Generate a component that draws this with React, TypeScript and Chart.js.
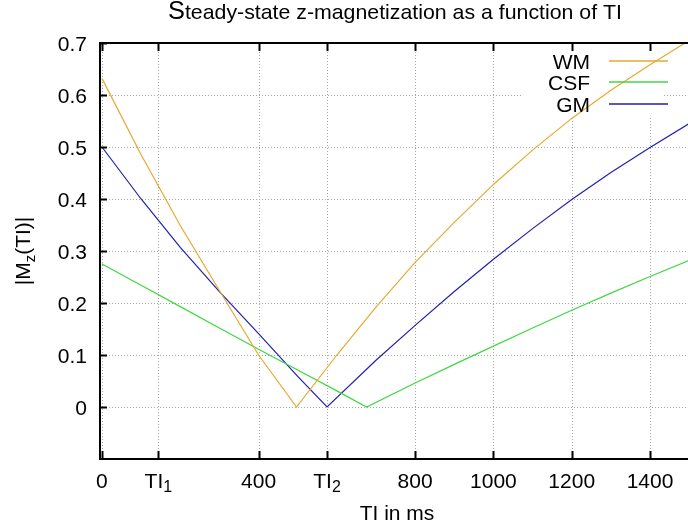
import React, { useEffect, useRef } from "react";
import { Chart, registerables } from "chart.js";

Chart.register(...registerables);

// ---------- text ----------
const TITLE_FIRST = "S";
const TITLE_REST = "teady-state z-magnetization as a function of TI";
const X_TITLE = "TI in ms";
const Y_TITLE_PARTS = ["|M", "z", "(TI)|"]; // middle part is a subscript

// ---------- axes ----------
const X_MIN = -5;
const X_MAX = 1497;
const Y_MIN = -0.1;
const Y_MAX = 0.7;
const TI1 = 144;
const TI2 = 575;
const xTickValues = [0, TI1, 400, TI2, 800, 1000, 1200, 1400];
const xTickLabels = ["0", "TI_1", "400", "TI_2", "800", "1000", "1200", "1400"];
const yTickValues = [0, 0.1, 0.2, 0.3, 0.4, 0.5, 0.6, 0.7];
const yTickLabels = ["0", "0.1", "0.2", "0.3", "0.4", "0.5", "0.6", "0.7"];

// ---------- series ----------
const seriesNames = ["WM", "CSF", "GM"];
const seriesColors = ["#e8a830", "#40d840", "#2020b0"];

const wmTI = [0, 100, 200, 300, 400, 497, 600, 700, 800, 900, 1000, 1100, 1200, 1300, 1400, 1500];
const wmMz = [0.632, 0.485, 0.349, 0.224, 0.1, 0, 0.1, 0.192, 0.278, 0.355, 0.428, 0.494, 0.555, 0.609, 0.658, 0.705];

const csfTI = [0, 100, 200, 300, 400, 500, 600, 676, 800, 900, 1000, 1100, 1200, 1300, 1400, 1500];
const csfMz = [0.275, 0.234, 0.193, 0.152, 0.111, 0.071, 0.031, 0, 0.046, 0.082, 0.117, 0.152, 0.186, 0.219, 0.251, 0.282];

const gmTI = [0, 100, 200, 300, 400, 500, 575, 700, 800, 900, 1000, 1100, 1200, 1300, 1400, 1500];
const gmMz = [0.5, 0.4, 0.307, 0.222, 0.141, 0.059, 0, 0.09, 0.157, 0.222, 0.284, 0.343, 0.399, 0.451, 0.499, 0.545];

const FONT = "'Liberation Sans', Arial, sans-serif";

function toPoints(xs: number[], ys: number[]) {
  return xs.map((x, i) => ({ x, y: ys[i] }));
}

const gnuplotPlugin = {
  id: "gnuplotFrame",
  beforeDatasetsDraw(chart: any) {
    const { ctx, chartArea: ca } = chart;
    const xs = chart.scales.x;
    const ys = chart.scales.y;
    ctx.save();
    // dotted grid
    ctx.strokeStyle = "#a8a8a8";
    ctx.lineWidth = 1;
    ctx.setLineDash([1, 2]);
    xTickValues.forEach((v) => {
      const px = Math.round(xs.getPixelForValue(v)) + 0.5;
      ctx.beginPath();
      ctx.moveTo(px, ca.top);
      ctx.lineTo(px, ca.bottom);
      ctx.stroke();
    });
    yTickValues.forEach((v) => {
      const py = Math.round(ys.getPixelForValue(v)) + 0.5;
      ctx.beginPath();
      ctx.moveTo(ca.left, py);
      ctx.lineTo(ca.right, py);
      ctx.stroke();
    });
    ctx.setLineDash([]);
    // opaque legend box (hides grid)
    ctx.fillStyle = "#ffffff";
    ctx.fillRect(ca.right - 165, ca.top + 1, 139, 73);
    ctx.restore();
  },
  afterDatasetsDraw(chart: any) {
    const { ctx, chartArea: ca } = chart;
    const xs = chart.scales.x;
    const ys = chart.scales.y;
    ctx.save();
    // border
    ctx.strokeStyle = "#000";
    ctx.lineWidth = 2;
    ctx.beginPath();
    ctx.moveTo(ca.right + 2, ca.top);
    ctx.lineTo(ca.left, ca.top);
    ctx.lineTo(ca.left, ca.bottom);
    ctx.lineTo(ca.right + 2, ca.bottom);
    ctx.stroke();
    // inward ticks
    ctx.lineWidth = 2;
    xTickValues.forEach((v) => {
      const px = Math.round(xs.getPixelForValue(v)) + 0.5;
      ctx.beginPath();
      ctx.moveTo(px, ca.bottom);
      ctx.lineTo(px, ca.bottom - 8);
      ctx.moveTo(px, ca.top);
      ctx.lineTo(px, ca.top + 8);
      ctx.stroke();
    });
    yTickValues.forEach((v) => {
      const py = Math.round(ys.getPixelForValue(v)) + 0.5;
      ctx.beginPath();
      ctx.moveTo(ca.left, py);
      ctx.lineTo(ca.left + 7, py);
      ctx.stroke();
    });

    ctx.fillStyle = "#000";
    ctx.textBaseline = "alphabetic";
    // x tick labels
    xTickValues.forEach((v, i) => {
      const px = xs.getPixelForValue(v);
      const [main, sub] = xTickLabels[i].split("_");
      ctx.font = `21px ${FONT}`;
      const wMain = ctx.measureText(main).width;
      let wSub = 0;
      if (sub) {
        ctx.font = `16px ${FONT}`;
        wSub = ctx.measureText(sub).width;
      }
      const x0 = px - (wMain + wSub) / 2;
      ctx.textAlign = "left";
      ctx.font = `21px ${FONT}`;
      ctx.fillText(main, x0, ca.bottom + 29);
      if (sub) {
        ctx.font = `16px ${FONT}`;
        ctx.fillText(sub, x0 + wMain, ca.bottom + 33);
      }
    });
    // y tick labels
    ctx.font = `21px ${FONT}`;
    ctx.textAlign = "right";
    yTickValues.forEach((v, i) => {
      const py = ys.getPixelForValue(v);
      ctx.fillText(yTickLabels[i], ca.left - 13, py + 7.5);
    });

    // x title
    ctx.textAlign = "center";
    ctx.font = `21px ${FONT}`;
    ctx.fillText(X_TITLE, (ca.left + ca.right) / 2 + 3, ca.bottom + 61);

    // y title (rotated, with subscript)
    ctx.save();
    ctx.translate(22, (ca.top + ca.bottom) / 2);
    ctx.rotate(-Math.PI / 2);
    ctx.textAlign = "left";
    const sizes = [21, 15, 21];
    const offs = [0, 5, 0];
    let total = 0;
    const widths = Y_TITLE_PARTS.map((p, i) => {
      ctx.font = `${sizes[i]}px ${FONT}`;
      const w = ctx.measureText(p).width;
      total += w;
      return w;
    });
    let cx = -total / 2;
    Y_TITLE_PARTS.forEach((p, i) => {
      ctx.font = `${sizes[i]}px ${FONT}`;
      ctx.fillText(p, cx, 7.5 + offs[i]);
      cx += widths[i];
    });
    ctx.restore();

    // main title
    ctx.save();
    ctx.textAlign = "left";
    ctx.font = `25px ${FONT}`;
    const wS = ctx.measureText(TITLE_FIRST).width;
    ctx.font = `21px ${FONT}`;
    const wR = ctx.measureText(TITLE_REST).width;
    const target = 454;
    const sc = target / (wS + wR);
    const cxTitle = (ca.left + ca.right) / 2 + 1;
    ctx.translate(cxTitle - target / 2, 19);
    ctx.scale(sc, 1);
    ctx.font = `25px ${FONT}`;
    ctx.fillText(TITLE_FIRST, 0, 0);
    ctx.font = `21px ${FONT}`;
    ctx.fillText(TITLE_REST, wS, 0);
    ctx.restore();

    // legend
    const textRight = ca.right - 98;
    const sx1 = ca.right - 79;
    const sx2 = ca.right - 20;
    const rowY = [ca.top + 18, ca.top + 39, ca.top + 61];
    ctx.font = `21px ${FONT}`;
    ctx.textAlign = "right";
    seriesNames.forEach((name, i) => {
      ctx.fillStyle = "#000";
      ctx.fillText(name, textRight, rowY[i] + 7.5);
      ctx.strokeStyle = seriesColors[i];
      ctx.lineWidth = 1.5;
      ctx.beginPath();
      ctx.moveTo(sx1, rowY[i]);
      ctx.lineTo(sx2, rowY[i]);
      ctx.stroke();
    });
    ctx.restore();
  },
};

export default function App() {
  const ref = useRef<HTMLCanvasElement | null>(null);
  useEffect(() => {
    if (!ref.current) return;
    const chart = new Chart(ref.current, {
      type: "scatter",
      data: {
        datasets: [
          { label: seriesNames[0], data: toPoints(wmTI, wmMz) },
          { label: seriesNames[1], data: toPoints(csfTI, csfMz) },
          { label: seriesNames[2], data: toPoints(gmTI, gmMz) },
        ].map((d, i) => ({
          ...d,
          showLine: true,
          borderColor: seriesColors[i],
          backgroundColor: seriesColors[i],
          borderWidth: 1.2,
          pointRadius: 0,
          pointHoverRadius: 0,
          tension: 0,
          fill: false,
        })),
      },
      options: {
        animation: false,
        responsive: false,
        layout: { padding: { left: 100, top: 43, right: 0, bottom: 71 } },
        plugins: {
          legend: { display: false },
          title: { display: false },
          tooltip: { enabled: false },
        },
        events: [],
        scales: {
          x: { type: "linear", display: false, min: X_MIN, max: X_MAX },
          y: { type: "linear", display: false, min: Y_MIN, max: Y_MAX },
        },
      },
      plugins: [gnuplotPlugin],
    } as any);
    return () => chart.destroy();
  }, []);
  return (
    <div style={{ position: "absolute", left: 0, top: 0, width: 688, height: 530, background: "#fff" }}>
      <canvas ref={ref} width={688} height={530} style={{ display: "block" }} />
    </div>
  );
}
